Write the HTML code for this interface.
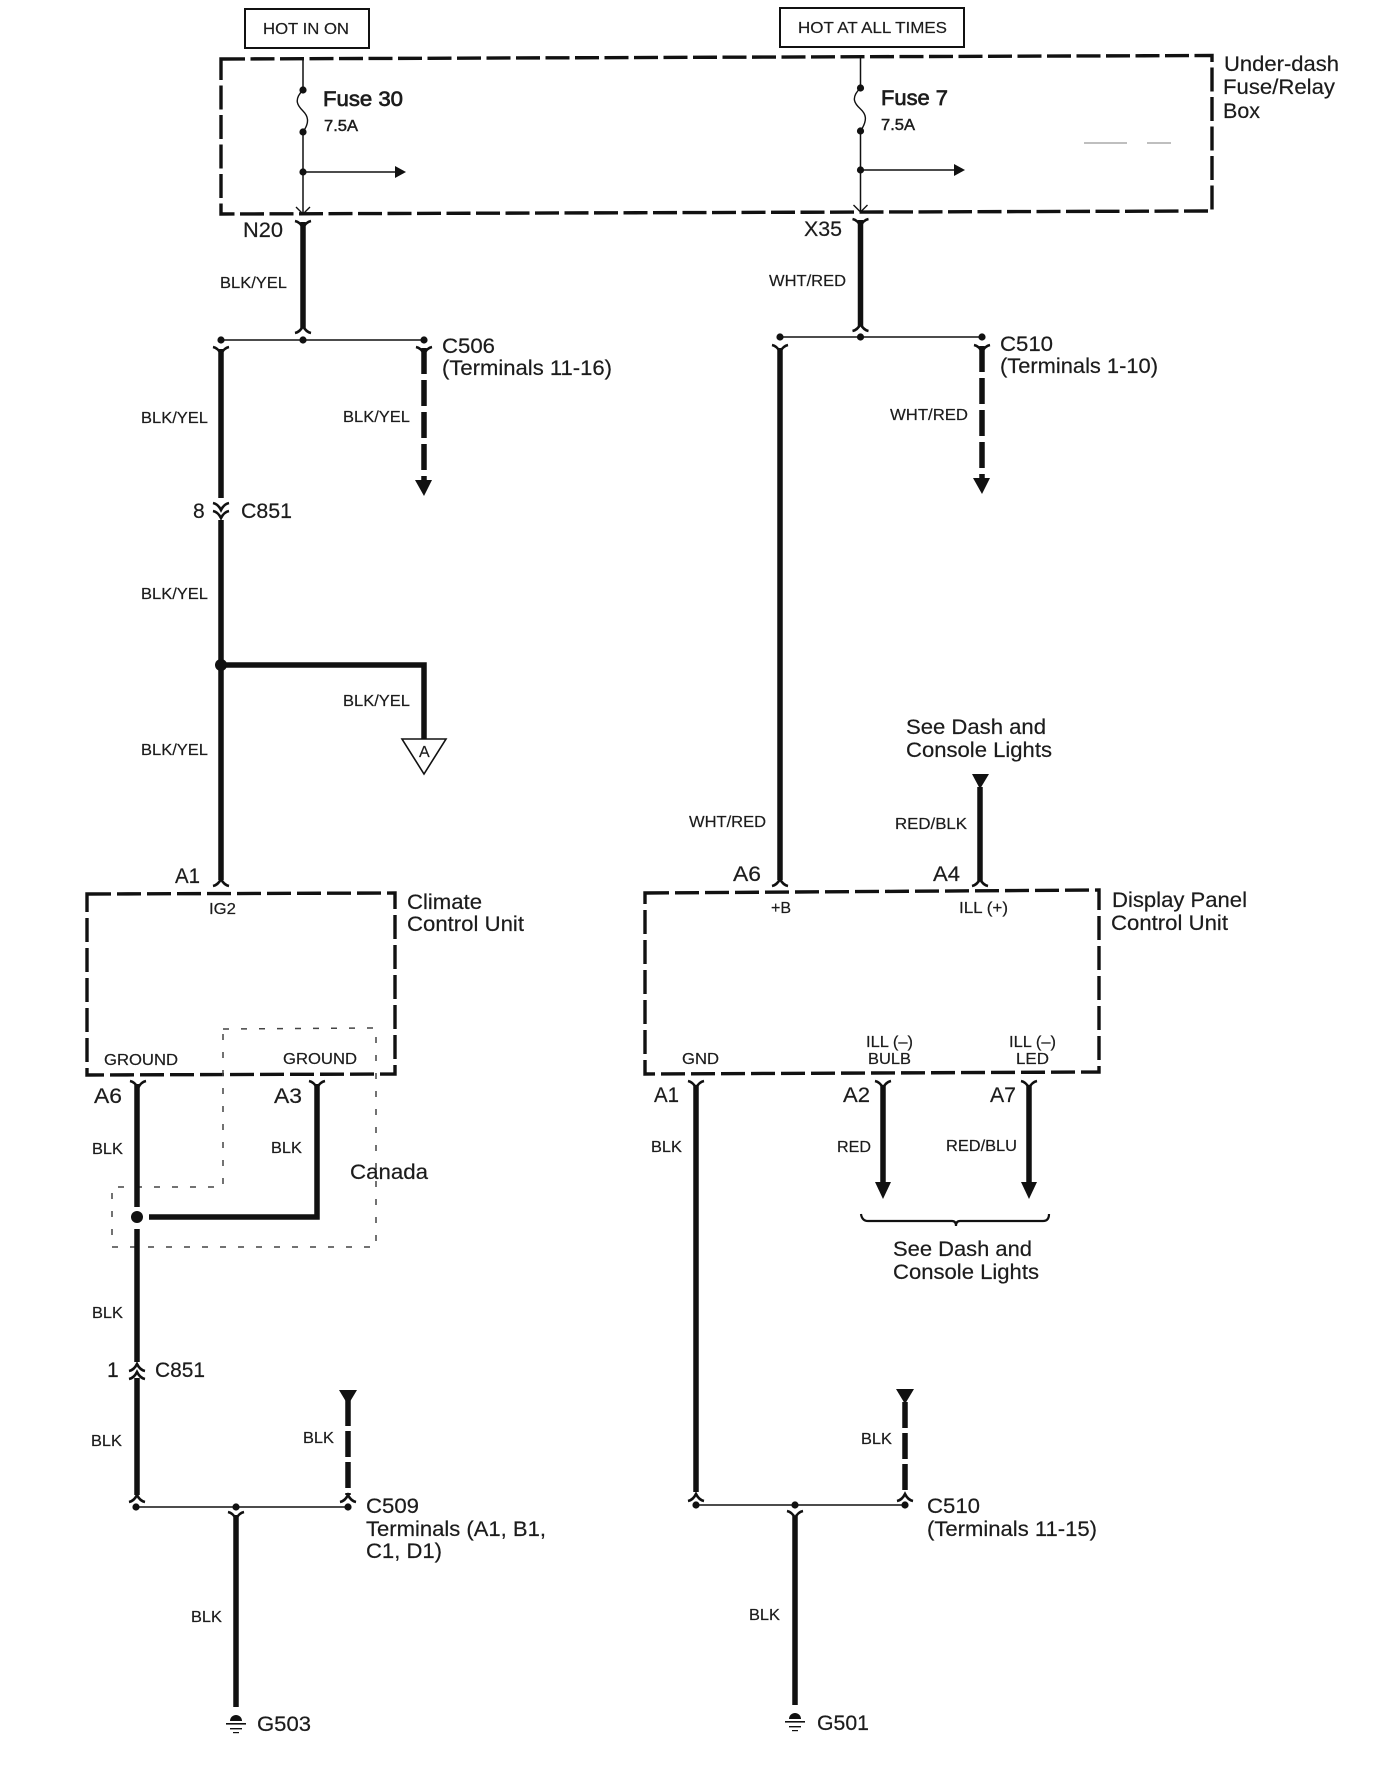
<!DOCTYPE html>
<html><head><meta charset="utf-8"><title>Diagram</title>
<style>
html,body{margin:0;padding:0;background:#fff}
svg{display:block}
text{font-family:"Liberation Sans",sans-serif;fill:#1c1c1c;stroke:#1c1c1c;stroke-width:.2}
.s{font-size:16px}.m{font-size:21px}
text.h{stroke-width:.7}text.h2{stroke-width:.45}
</style></head><body>
<svg width="1379" height="1772" viewBox="0 0 1379 1772" xmlns="http://www.w3.org/2000/svg">
<defs>
<path id="y" d="M-8,-5 Q-3,-4 0,2 Q3,-4 8,-5" fill="none" stroke="#111" stroke-width="2.6"/>
<path id="a" d="M-8,5 Q-3,4 0,-2 Q3,4 8,5" fill="none" stroke="#111" stroke-width="2.6"/>
</defs>
<!-- non-shifted geometry -->
<g fill="none" stroke="#111">
<rect x="245" y="9" width="124" height="39" stroke-width="2"/>
<rect x="780" y="8" width="184" height="39" stroke-width="2"/>
<path d="M221,59 L1212,55.5 L1212,211 L221,214 Z" stroke-width="3.4" stroke-dasharray="24 5.5"/>
<path d="M87,894 L395,893 L395,1074 L87,1075 Z" stroke-width="3.4" stroke-dasharray="24 6"/>
<path d="M645,893 L1099,890 L1099,1072 L645,1074 Z" stroke-width="3.4" stroke-dasharray="24 6"/>
<path d="M223,1029 L376,1028 L376,1247 L112,1247 L112,1187 L223,1187 Z" stroke="#444" stroke-width="1.5" stroke-dasharray="6 12"/>
<path d="M1084,143 H1127 M1147,143 H1171" stroke="#999" stroke-width="1.3"/>
<path d="M303,60 V90 M303,132 V214 M303,172 H395" stroke-width="1.5"/>
<path d="M303,90 C293,100 298,106 303,111 C308,116 310,122 303,132" stroke-width="1.4"/>
<path d="M296,207 L303,214 L310,207" stroke-width="1.4"/>
<path d="M221,340 H424" stroke-width="1.6"/>
<path d="M136,1507 H348" stroke-width="1.6"/>
<g stroke-width="5.5">
<path d="M303,222 V328"/>
<path d="M221,349 V498"/><path d="M221,520 V880"/>
<path d="M221,665 H424 V739"/>
<path d="M137,1084 V1207"/><path d="M137,1229 V1362"/><path d="M137,1378 V1495"/>
<path d="M149,1217 H317 V1084"/>
<path d="M236,1515 V1707"/>
</g>
<path d="M424,348 V482" stroke-width="5.5" stroke-dasharray="26 6"/>
<path d="M348,1400 V1495" stroke-width="5.5" stroke-dasharray="26 5"/>
<path d="M402,739 H446 L424,774 Z" fill="#fff" stroke-width="1.6"/>
</g>
<use href="#y" x="303" y="226"/><use href="#a" x="303" y="328"/>
<use href="#y" x="221" y="352"/><use href="#y" x="424" y="352"/>
<use href="#y" x="221" y="508"/><use href="#y" x="221" y="516"/>
<use href="#a" x="221" y="881"/>
<use href="#y" x="138" y="1086"/><use href="#y" x="317" y="1086"/>
<use href="#a" x="137" y="1366"/><use href="#a" x="137" y="1374"/>
<use href="#a" x="137" y="1497"/><use href="#a" x="348" y="1497"/>
<use href="#y" x="236" y="1517"/>
<g fill="#111">
<circle cx="303" cy="90" r="3.6"/><circle cx="303" cy="132" r="3.6"/><circle cx="303" cy="172" r="3.6"/>
<circle cx="221" cy="340" r="3.6"/><circle cx="303" cy="340" r="3.6"/><circle cx="424" cy="340" r="3.6"/>
<circle cx="136" cy="1507" r="3.6"/><circle cx="236" cy="1507" r="3.6"/><circle cx="348" cy="1507" r="3.6"/>
<circle cx="221" cy="665" r="6"/><circle cx="137" cy="1217" r="6"/>
<path d="M395,166 L406,172 L395,178 Z"/>
<path d="M415,480 H432 L424,496 Z"/>
<path d="M339,1390 H357 L348,1405 Z"/>
<path d="M230,1721 A6,6 0 0 1 242,1721 Z"/>
<rect x="226" y="1723" width="20" height="1.6"/><rect x="230" y="1728" width="12" height="1.4"/><rect x="233" y="1732" width="6" height="1.2"/>
</g>
<!-- right column geometry, shifted -->
<g transform="translate(2,0)">
<g fill="none" stroke="#111">
<path d="M858.5,58 V88 M858.5,131 V212 M858.5,170 H952" stroke-width="1.5"/>
<path d="M858.5,88 C848,98 853,104 858.5,109 C864,114 866,120 858.5,131" stroke-width="1.4"/>
<path d="M851.5,205 L858.5,212 L865.5,205" stroke-width="1.4"/>
<path d="M778,337 H980" stroke-width="1.6"/>
<path d="M694,1505 H903" stroke-width="1.6"/>
<g stroke-width="5.5">
<path d="M858.5,220 V326"/>
<path d="M778,348 V880"/><path d="M978,787 V881"/>
<path d="M694,1085 V1492"/>
<path d="M881,1085 V1186"/><path d="M1027,1085 V1186"/>
<path d="M793,1516 V1705"/>
</g>
<path d="M980,346 V480" stroke-width="5.5" stroke-dasharray="26 6"/>
<path d="M903,1402 V1494" stroke-width="5.5" stroke-dasharray="26 5"/>
<path d="M859,1214 Q860,1221 866,1221 H950 Q954,1221 954,1226 Q954,1221 958,1221 H1041 Q1047,1221 1047,1214" stroke-width="2.2"/>
</g>
<use href="#y" x="858.5" y="224"/><use href="#a" x="858.5" y="326"/>
<use href="#y" x="778" y="350"/><use href="#y" x="980" y="350"/>
<use href="#a" x="778" y="881"/><use href="#a" x="978" y="881"/>
<use href="#y" x="694" y="1086"/><use href="#y" x="881" y="1086"/><use href="#y" x="1027" y="1086"/>
<use href="#a" x="694" y="1496"/><use href="#a" x="903" y="1496"/>
<use href="#y" x="793" y="1516"/>
<g fill="#111">
<circle cx="858.5" cy="88" r="3.6"/><circle cx="858.5" cy="131" r="3.6"/><circle cx="858.5" cy="170" r="3.6"/>
<circle cx="778" cy="337" r="3.6"/><circle cx="858.5" cy="337" r="3.6"/><circle cx="980" cy="337" r="3.6"/>
<circle cx="694" cy="1505" r="3.6"/><circle cx="793" cy="1505" r="3.6"/><circle cx="903" cy="1505" r="3.6"/>
<path d="M952,164 L963,170 L952,176 Z"/>
<path d="M971,478 H988 L980,494 Z"/>
<path d="M873,1182 H889 L881,1199 Z"/><path d="M1019,1182 H1035 L1027,1199 Z"/>
<path d="M970,774 H987 L978,789 Z"/><path d="M894,1389 H912 L903,1404 Z"/>
<path d="M787,1719 A6,6 0 0 1 799,1719 Z"/>
<rect x="783" y="1721" width="20" height="1.6"/><rect x="787" y="1726" width="12" height="1.4"/><rect x="790" y="1730" width="6" height="1.2"/>
</g>
</g>
<!-- left text -->
<text class="s" x="263" y="34" textLength="86" lengthAdjust="spacingAndGlyphs">HOT IN ON</text>
<text class="m h" x="323" y="106" textLength="80" lengthAdjust="spacingAndGlyphs">Fuse 30</text>
<text class="s h2" x="324" y="131" textLength="34" lengthAdjust="spacingAndGlyphs">7.5A</text>
<text class="m" x="243" y="237" textLength="40" lengthAdjust="spacingAndGlyphs">N20</text>
<text class="s" x="220" y="288" textLength="67" lengthAdjust="spacingAndGlyphs">BLK/YEL</text>
<text class="m" x="442" y="353" textLength="53" lengthAdjust="spacingAndGlyphs">C506</text>
<text class="m" x="442" y="375" textLength="170" lengthAdjust="spacingAndGlyphs">(Terminals 11-16)</text>
<text class="s" x="141" y="423" textLength="67" lengthAdjust="spacingAndGlyphs">BLK/YEL</text>
<text class="s" x="343" y="422" textLength="67" lengthAdjust="spacingAndGlyphs">BLK/YEL</text>
<text class="m" x="193" y="518">8</text>
<text class="m" x="241" y="518" textLength="51" lengthAdjust="spacingAndGlyphs">C851</text>
<text class="s" x="141" y="599" textLength="67" lengthAdjust="spacingAndGlyphs">BLK/YEL</text>
<text class="s" x="343" y="706" textLength="67" lengthAdjust="spacingAndGlyphs">BLK/YEL</text>
<text class="s" x="141" y="755" textLength="67" lengthAdjust="spacingAndGlyphs">BLK/YEL</text>
<text class="s" x="419" y="757">A</text>
<text class="m" x="175" y="883" textLength="25" lengthAdjust="spacingAndGlyphs">A1</text>
<text class="s" x="209" y="914" textLength="27" lengthAdjust="spacingAndGlyphs">IG2</text>
<text class="m" x="407" y="909" textLength="75" lengthAdjust="spacingAndGlyphs">Climate</text>
<text class="m" x="407" y="931" textLength="117" lengthAdjust="spacingAndGlyphs">Control Unit</text>
<text class="s" x="104" y="1065" textLength="74" lengthAdjust="spacingAndGlyphs">GROUND</text>
<text class="s" x="283" y="1064" textLength="74" lengthAdjust="spacingAndGlyphs">GROUND</text>
<text class="m" x="94" y="1103" textLength="28" lengthAdjust="spacingAndGlyphs">A6</text>
<text class="m" x="274" y="1103" textLength="28" lengthAdjust="spacingAndGlyphs">A3</text>
<text class="s" x="92" y="1154" textLength="31" lengthAdjust="spacingAndGlyphs">BLK</text>
<text class="s" x="271" y="1153" textLength="31" lengthAdjust="spacingAndGlyphs">BLK</text>
<text class="m" x="350" y="1179" textLength="78" lengthAdjust="spacingAndGlyphs">Canada</text>
<text class="s" x="92" y="1318" textLength="31" lengthAdjust="spacingAndGlyphs">BLK</text>
<text class="m" x="107" y="1377">1</text>
<text class="m" x="155" y="1377" textLength="50" lengthAdjust="spacingAndGlyphs">C851</text>
<text class="s" x="91" y="1446" textLength="31" lengthAdjust="spacingAndGlyphs">BLK</text>
<text class="s" x="303" y="1443" textLength="31" lengthAdjust="spacingAndGlyphs">BLK</text>
<text class="m" x="366" y="1513" textLength="53" lengthAdjust="spacingAndGlyphs">C509</text>
<text class="m" x="366" y="1536" textLength="180" lengthAdjust="spacingAndGlyphs">Terminals (A1, B1,</text>
<text class="m" x="366" y="1558" textLength="76" lengthAdjust="spacingAndGlyphs">C1, D1)</text>
<text class="s" x="191" y="1622" textLength="31" lengthAdjust="spacingAndGlyphs">BLK</text>
<text class="m" x="257" y="1731" textLength="54" lengthAdjust="spacingAndGlyphs">G503</text>
<!-- right text -->
<text class="s" x="798" y="33" textLength="149" lengthAdjust="spacingAndGlyphs">HOT AT ALL TIMES</text>
<text class="m" x="1224" y="71" textLength="115" lengthAdjust="spacingAndGlyphs">Under-dash</text>
<text class="m" x="1223" y="94" textLength="112" lengthAdjust="spacingAndGlyphs">Fuse/Relay</text>
<text class="m" x="1223" y="118" textLength="37" lengthAdjust="spacingAndGlyphs">Box</text>
<g transform="translate(1,0)">
<text class="m h" x="880" y="105" textLength="67" lengthAdjust="spacingAndGlyphs">Fuse 7</text>
<text class="s h2" x="880" y="130" textLength="34" lengthAdjust="spacingAndGlyphs">7.5A</text>
<text class="m" x="803" y="236" textLength="38" lengthAdjust="spacingAndGlyphs">X35</text>
<text class="s" x="768" y="286" textLength="77" lengthAdjust="spacingAndGlyphs">WHT/RED</text>
<text class="m" x="999" y="351" textLength="53" lengthAdjust="spacingAndGlyphs">C510</text>
<text class="m" x="999" y="373" textLength="158" lengthAdjust="spacingAndGlyphs">(Terminals 1-10)</text>
<text class="s" x="889" y="420" textLength="78" lengthAdjust="spacingAndGlyphs">WHT/RED</text>
<text class="m" x="905" y="734" textLength="140" lengthAdjust="spacingAndGlyphs">See Dash and</text>
<text class="m" x="905" y="757" textLength="146" lengthAdjust="spacingAndGlyphs">Console Lights</text>
<text class="s" x="894" y="829" textLength="72" lengthAdjust="spacingAndGlyphs">RED/BLK</text>
<text class="s" x="688" y="827" textLength="77" lengthAdjust="spacingAndGlyphs">WHT/RED</text>
<text class="m" x="732" y="881" textLength="28" lengthAdjust="spacingAndGlyphs">A6</text>
<text class="m" x="932" y="881" textLength="27" lengthAdjust="spacingAndGlyphs">A4</text>
<text class="s" x="770" y="913" textLength="20" lengthAdjust="spacingAndGlyphs">+B</text>
<text class="s" x="958" y="913" textLength="49" lengthAdjust="spacingAndGlyphs">ILL (+)</text>
<text class="m" x="1111" y="907" textLength="135" lengthAdjust="spacingAndGlyphs">Display Panel</text>
<text class="m" x="1110" y="930" textLength="117" lengthAdjust="spacingAndGlyphs">Control Unit</text>
<text class="s" x="681" y="1064" textLength="37" lengthAdjust="spacingAndGlyphs">GND</text>
<text class="s" x="865" y="1047" textLength="47" lengthAdjust="spacingAndGlyphs">ILL (–)</text>
<text class="s" x="867" y="1064" textLength="43" lengthAdjust="spacingAndGlyphs">BULB</text>
<text class="s" x="1008" y="1047" textLength="47" lengthAdjust="spacingAndGlyphs">ILL (–)</text>
<text class="s" x="1015" y="1064" textLength="33" lengthAdjust="spacingAndGlyphs">LED</text>
<text class="m" x="653" y="1102" textLength="25" lengthAdjust="spacingAndGlyphs">A1</text>
<text class="m" x="842" y="1102" textLength="27" lengthAdjust="spacingAndGlyphs">A2</text>
<text class="m" x="989" y="1102" textLength="26" lengthAdjust="spacingAndGlyphs">A7</text>
<text class="s" x="650" y="1152" textLength="31" lengthAdjust="spacingAndGlyphs">BLK</text>
<text class="s" x="836" y="1152" textLength="34" lengthAdjust="spacingAndGlyphs">RED</text>
<text class="s" x="945" y="1151" textLength="71" lengthAdjust="spacingAndGlyphs">RED/BLU</text>
<text class="m" x="892" y="1256" textLength="139" lengthAdjust="spacingAndGlyphs">See Dash and</text>
<text class="m" x="892" y="1279" textLength="146" lengthAdjust="spacingAndGlyphs">Console Lights</text>
<text class="s" x="860" y="1444" textLength="31" lengthAdjust="spacingAndGlyphs">BLK</text>
<text class="m" x="926" y="1513" textLength="53" lengthAdjust="spacingAndGlyphs">C510</text>
<text class="m" x="926" y="1536" textLength="170" lengthAdjust="spacingAndGlyphs">(Terminals 11-15)</text>
<text class="s" x="748" y="1620" textLength="31" lengthAdjust="spacingAndGlyphs">BLK</text>
<text class="m" x="816" y="1730" textLength="52" lengthAdjust="spacingAndGlyphs">G501</text>
</g>
</svg>
</body></html>
